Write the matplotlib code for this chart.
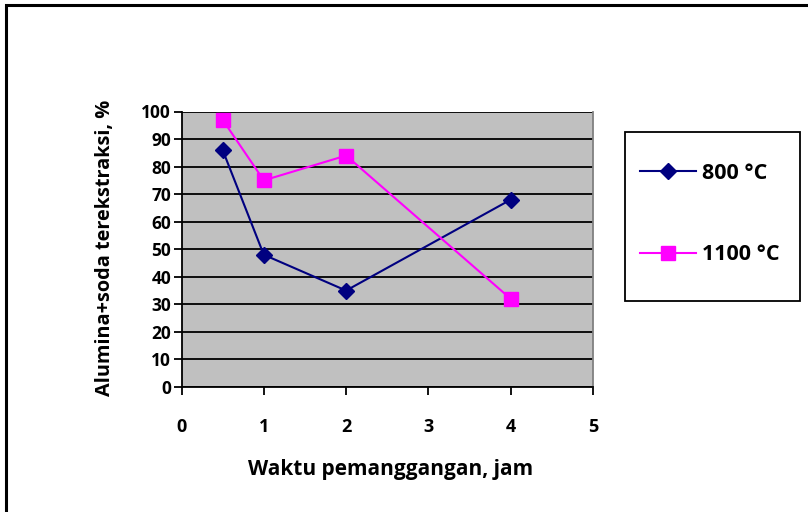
import matplotlib
matplotlib.use("Agg")
import matplotlib.pyplot as plt
from matplotlib.patches import Rectangle

x_jam = [0.5, 1, 2, 4]
y_800 = [86, 48, 35, 68]
y_1100 = [97, 75, 84, 32]
labels = ["800 °C", "1100 °C"]
xticks = [0, 1, 2, 3, 4, 5]
yticks = list(range(0, 101, 10))

plt.rcParams['font.family'] = ['Open Sans', 'DejaVu Sans']
plt.rcParams['font.weight'] = 'bold'

W, H = 808, 512
fig = plt.figure(figsize=(W/100, H/100), dpi=100)

def fx(px):
    return px / W

def fy(py):
    return 1 - py / H

ax = fig.add_axes([fx(181.5), fy(387), fx(593) - fx(181.5), fy(111.5) - fy(387)])
ax.set_facecolor('#C0C0C0')
ax.set_xlim(0, 5)
ax.set_ylim(0, 100)
ax.set_xticks(xticks)
ax.set_yticks(yticks)
ax.set_xticklabels([str(t) for t in xticks], fontsize=13, fontweight='bold')
ax.set_yticklabels([str(t) for t in yticks], fontsize=12.5, fontweight='bold')
ax.yaxis.grid(True, color='black', linewidth=1.3)
ax.set_axisbelow(True)
ax.tick_params(axis='both', direction='out', length=6, width=1.3, color='black')
ax.tick_params(axis='x', pad=16)
ax.tick_params(axis='y', pad=1.5)
for s in ['left', 'bottom']:
    ax.spines[s].set_color('black')
    ax.spines[s].set_linewidth(1.3)
ax.spines['top'].set_visible(False)
ax.spines['right'].set_color('#808080')
ax.spines['right'].set_linewidth(1.3)

l1, = ax.plot(x_jam, y_800, color='#000080', marker='D', markersize=8,
              linewidth=1.5, label=labels[0], clip_on=False, zorder=3)
l2, = ax.plot(x_jam, y_1100, color='#FF00FF', marker='s', markersize=10,
              linewidth=1.5, label=labels[1], clip_on=False, zorder=3)

fig.text(fx(391), fy(470), 'Waktu pemanggangan, jam', fontsize=15, fontweight='bold',
         ha='center', va='center')
fig.text(fx(105), fy(248), 'Alumina+soda terekstraksi, %', fontsize=14.3, fontweight='bold',
         ha='center', va='center', rotation=90)

# legend box
fig.patches.append(Rectangle((fx(625), fy(301)), fx(800) - fx(625), fy(132) - fy(301),
                             transform=fig.transFigure, fill=False, edgecolor='black',
                             linewidth=1.3))
leg = fig.legend(handles=[l1, l2], loc='upper left',
                 bbox_to_anchor=(fx(640), fy(163)), frameon=False, borderpad=0,
                 borderaxespad=0, handlelength=2.6, handletextpad=0.3,
                 labelspacing=2.8, prop={'size': 15.5, 'weight': 'bold'})

# outer chart frame
fig.patches.append(Rectangle((fx(6), fy(530)), fx(830) - fx(6), fy(5) - fy(530),
                             transform=fig.transFigure, fill=False, edgecolor='black',
                             linewidth=2.2))

fig.savefig('out.png', dpi=100)
